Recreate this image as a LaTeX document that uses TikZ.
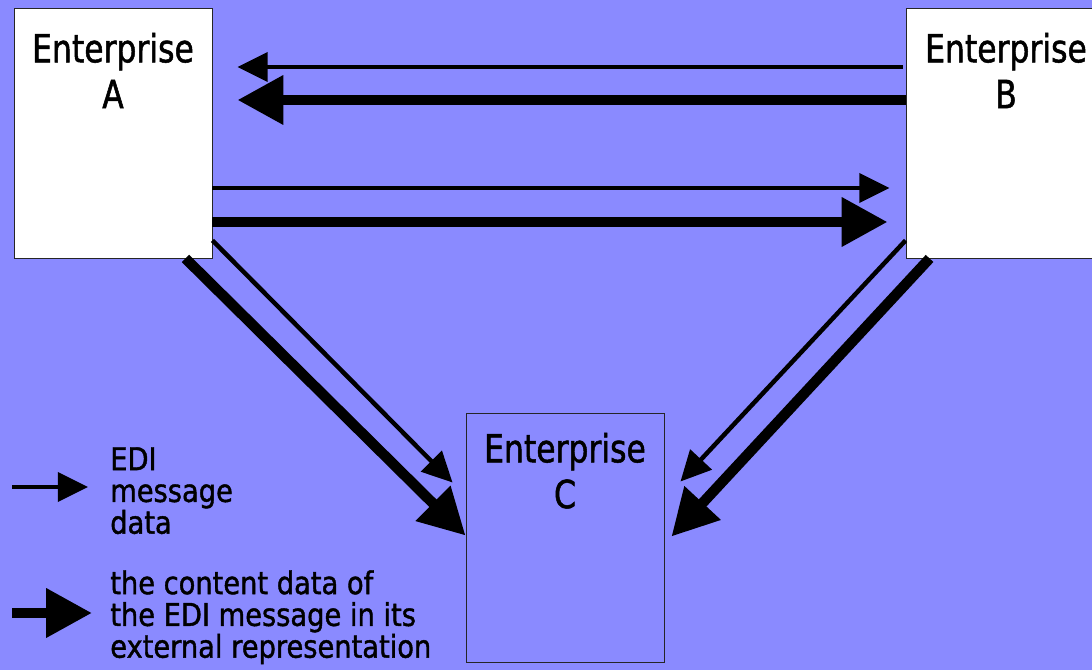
\documentclass[tikz,border=0pt]{standalone}
\usepackage{fontspec}
\setmainfont{DejaVu Sans}
\newfontfamily\titlefont[FakeStretch=0.81, FakeBold=1.3]{DejaVu Sans}
\newfontfamily\legendfont[FakeStretch=0.87, FakeBold=1.3]{DejaVu Sans}
\usetikzlibrary{arrows.meta,positioning,calc}
\definecolor{bgblue}{RGB}{138,138,255}

\tikzset{
	enterprise/.style={draw=black!85, line width=0.6pt, inner sep=0pt,
		minimum width=4.95cm, minimum height=6.25cm},
	title/.style={inner sep=0pt, align=center,
		font=\titlefont\fontsize{27.6}{32.6}\selectfont},
	legendtext/.style={inner sep=0pt, align=left, anchor=north west,
		font=\legendfont\fontsize{22.3}{22.6}\selectfont},
	msg/.style={line width=3.2pt, -{Triangle[length=21.5pt,width=20.5pt]}},
	content/.style={line width=7.4pt, -{Triangle[length=32.6pt,width=33.3pt]}},
}

\begin{document}
\begin{tikzpicture}[x=0.025cm, y=0.025cm]
		\fill[bgblue] (0, 0) rectangle (1092, 670);
		\useasboundingbox (0, 0) rectangle (1092, 670);
		% the three enterprises
		\node[enterprise, fill=white] (entA) at (113, 537) {};
		\node[enterprise, fill=white, minimum width=5cm] (entB) at (1006, 537) {};
		\node[enterprise, minimum height=6.225cm] (entC) at (565, 132.5) {};
		\node[title, below=0.625cm of entA.north] (titleA) {Enterprise\\A};
		\node[title, below=0.625cm of entB.north] (titleB) {Enterprise\\B};
		\node[title, below=0.5cm of entC.north] (titleC) {Enterprise\\C};
		% B to A
		\draw[msg] ($(entB.west) + (-3, 66)$) -- ($(entA.east) + (25, 66)$);
		\draw[content] ($(entB.west) + (0, 33)$) -- ($(entA.east) + (25, 33)$);
		% A to B
		\draw[msg] ($(entA.east) + (0, -55)$) -- ($(entB.west) + (-16, -55)$);
		\draw[content] ($(entA.east) + (0, -89)$) -- ($(entB.west) + (-18, -89)$);
		% A to C and B to C
		\draw[msg] ($(entA.south east) + (0, 18)$) -- ($(entC.north west) + (-13, -70)$);
		\draw[content] ($(entA.south east) + (-27, 0)$) -- ($(entC.north west) + (0, -123)$);
		\draw[msg] ($(entB.south west) + (0, 18)$) -- ($(entC.north east) + (16, -69)$);
		\draw[content] ($(entB.south west) + (24, 0)$) -- ($(entC.north east) + (7, -124)$);
		% legend
		\coordinate (msgfrom) at (12, 183);
		\coordinate (msgto) at (88, 183);
		\coordinate (contfrom) at (12, 57);
		\coordinate (contto) at (92, 57);
		\draw[msg] (msgfrom) -- (msgto);
		\draw[content] (contfrom) -- (contto);
		\node[legendtext] (msglabel) at (110, 223) {EDI\\message\\data};
		\node[legendtext] (contlabel) at (110, 100)
			{the content data of\\the EDI message in its\\external representation};
\end{tikzpicture}
\end{document}
